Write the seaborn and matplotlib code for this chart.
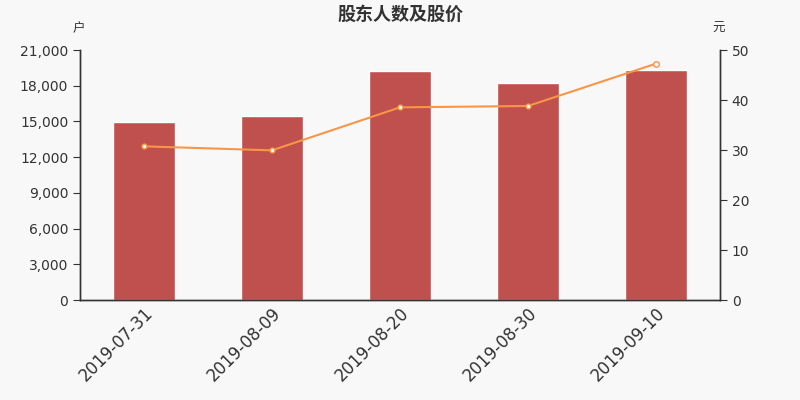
import pandas as pd
import numpy as np
import matplotlib.pyplot as plt
import seaborn as sns
from matplotlib.ticker import FuncFormatter, FixedLocator

# data
dates = ["2019-07-31", "2019-08-09", "2019-08-20", "2019-08-30", "2019-09-10"]
holders = [14950, 15430, 19240, 18200, 19290]
price = [30.73, 29.93, 38.53, 38.8, 47.27]

df = pd.DataFrame({"date": dates, "holders": holders, "price": price})
df["pos"] = range(len(df))

sns.set_style("white")
plt.rcParams['font.family'] = ['DejaVu Sans', 'Noto Sans CJK SC']

bg = "#f8f8f8"
axis_col = "#333333"
fig = plt.figure(figsize=(8, 4), dpi=100, facecolor=bg)
ax = fig.add_axes([0.1, 0.25, 0.8, 0.625])
ax.set_facecolor(bg)

sns.barplot(data=df, x="date", y="holders", color="#c0504d", saturation=1,
            width=0.48, ax=ax)
ax.set_ylim(0, 21000)
ax.set_xlim(-0.5, 4.5)
ax.yaxis.set_major_locator(FixedLocator(np.arange(0, 21001, 3000)))
ax.yaxis.set_major_formatter(FuncFormatter(lambda v, p: f"{int(v):,}"))
ax.set_xlabel("")
ax.set_ylabel("")

# x ticks between categories
ax.set_xticks(df["pos"])
ax.set_xticklabels(dates, rotation=45, ha="right", rotation_mode="anchor",
                   fontsize=12, color=axis_col)
ax.tick_params(axis="x", which="major", length=0, pad=3)
ax.set_xticks(np.arange(-0.5, 5, 1), minor=True)
ax.tick_params(axis="x", which="minor", length=5, color=axis_col, direction="out")
ax.tick_params(axis="y", length=5, color=axis_col, labelsize=10,
               labelcolor=axis_col, direction="out")

ax2 = ax.twinx()
sns.lineplot(data=df, x="pos", y="price", color="#f79646", linewidth=1.5,
             ax=ax2, legend=False)
ax2.plot(df["pos"][:-1], df["price"][:-1], "o", ms=3.5, mfc="white",
         mec="#f79646", mew=1, zorder=5)
ax2.plot(df["pos"][-1:], df["price"][-1:], "o", ms=4, mfc="white",
         mec="#f79646", mew=1, zorder=5)
ax2.set_ylim(0, 50)
ax2.set_xlim(-0.5, 4.5)
ax2.set_yticks(range(0, 51, 10))
ax2.set_xlabel("")
ax2.set_ylabel("")
ax2.tick_params(axis="y", length=5, color=axis_col, labelsize=10,
                labelcolor=axis_col, direction="out")

for a in (ax, ax2):
    a.spines["top"].set_visible(False)
    for side in ("left", "right", "bottom"):
        a.spines[side].set_color(axis_col)
        a.spines[side].set_linewidth(1)

fig.text(0.5, 0.965, "股东人数及股价", ha="center", va="center", fontsize=13,
         color=axis_col, family=['Noto Sans CJK SC', 'DejaVu Sans'],
         fontweight="bold")
fig.text(0.098, 0.928, "户", ha="center", va="center", fontsize=9, color=axis_col)
fig.text(0.898, 0.928, "元", ha="center", va="center", fontsize=9, color=axis_col)

fig.savefig("out.png", dpi=100, facecolor=bg)
